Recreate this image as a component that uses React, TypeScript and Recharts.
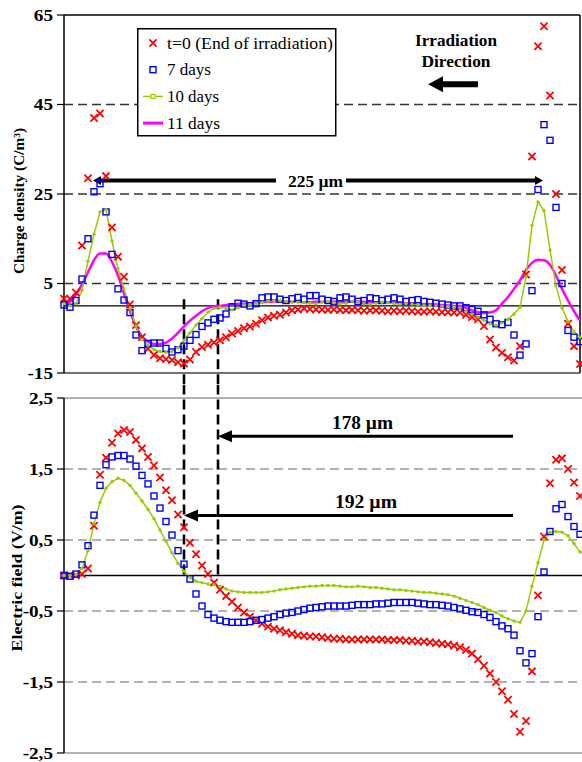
import React from 'react';
import { ComposedChart, Line, XAxis, YAxis, ReferenceLine, ReferenceDot, Legend } from 'recharts';

const SERIF = 'Liberation Serif, Times New Roman, Times, serif';

// depth positions (µm)
const positionsUm = [0, 3, 6, 9, 12, 15, 18, 21, 24, 27, 30, 33, 36, 39, 42, 45, 48, 51, 54, 57, 60, 63, 66, 69, 72, 75, 78, 81, 84, 87, 90, 93, 96, 99, 102, 105, 108, 111, 114, 117, 120, 123, 126, 129, 132, 135, 138, 141, 144, 147, 150, 153, 156, 159, 162, 165, 168, 171, 174, 177, 180, 183, 186, 189, 192, 195, 198, 201, 204, 207, 210, 213, 216, 219, 222, 225, 228, 231, 234, 237, 240, 243, 246, 249, 252, 255, 258];

// charge density (C/m3)
const rhoT0 = [1.6, 1.6, 3.0, 13.5, 28.5, 42, 43, 29, 17.5, 11,
  6.5, 0.3, -4.3, -7, -9.6, -11, -11.7, -11.9, -12.1, -12.6,
  -12.9, -12, -10.3, -9.2, -8.7, -8.2, -7.7, -7, -6.2, -5.6,
  -5, -4.6, -4, -3.2, -2.6, -2.2, -2, -1.5, -1, -0.8,
  -0.6, -0.7, -0.8, -0.8, -0.9, -0.8, -0.9, -1.0, -0.9, -1.0,
  -1.1, -1.0, -1.0, -1.1, -1.2, -1.1, -1.2, -1.1, -1.2, -1.3,
  -1.3, -1.2, -1.3, -1.4, -1.4, -1.5,
  -1.5, -2, -2.5, -3, -4.5, -7.5, -9.3, -10.5, -11.5, -12.2,
  -9, 7, 33.4, 58, 62.5, 47, 25, 8, -4, -9, -13];
const rho7 = [0.2, -0.3, 1.2, 6, 15, 25.5, 27.3, 21, 11.5, 3.8,
  1.3, -1.5, -6.5, -10, -8.4, -8.3, -8.3, -9.5, -10.3, -9.8,
  -9, -7.7, -6.4, -4.6, -3.8, -3, -2.7, -1.8, -0.2, 0.6,
  0.4, 0, 0.5, 1.8, 2, 2, 1.5, 1.2, 1.6, 1.9,
  1.5, 2.3, 2.3, 1.5, 1.2, 1.0, 1.8, 2.0, 1.5, 1.0,
  1.2, 1.8, 1.6, 1.2, 1.5, 1.8, 1.5, 1.0, 1.2, 1.4,
  1.0, 0.8, 0.6, 0.4, 0.2, 0,
  0, -0.4, -0.8, -1.2, -2, -3, -4, -4.2, -3.7, -6.5,
  -11, -8.5, 3.4, 26, 40.5, 37, 22, 5, -5.5, -7, -8];
const rho10 = [0.5, 0, 0.5, 3.5, 10, 16, 21, 21.5, 14.5, 8.3,
  3.8, -0.6, -4.5, -7.5, -8.8, -9.8, -10.2, -10.4, -10.2, -9.3,
  -7.7, -6, -4.3, -2.8, -1.4, -0.6, -0.3, -0.6, -0.9, -0.4,
  0.2, 0.3, 0.5, 0.8, 1.1, 1.2, 1.2, 1.0, 0.8, 0.8,
  0.8, 0.6, 0.5, 0.8, 1.0, 0.7, 0.5, 0.6, 0.9, 0.8,
  0.5, 0.4, 0.6, 0.8, 0.7, 0.5, 0.4, 0.5, 0.4, 0.3,
  0.2, 0.1, 0.0, -0.1, -0.2, -0.3,
  -0.5, -1.2, -1.8, -2.5, -3.2, -4, -4.3, -3.8, -3, -1.8,
  -0.3, 6.5, 18, 23.2, 21.3, 12.5, 4.5, -0.5, -3.5, -5.8, -7];
const rho11 = [0.5, 1, 2.5, 4.8, 7.5, 10.2, 11.7, 11.7, 9.8, 6.8,
  2.8, -1.2, -4.6, -6.8, -8, -8.5, -8.5, -8.2, -7.3, -6,
  -4.6, -3.3, -2.2, -1.2, -0.5, -0.1, 0, 0.2, 0.3, 0.4,
  0.5, 0.6, 0.7, 0.8, 0.9, 1.0, 1.0, 1.0, 0.9, 0.9,
  0.8, 0.8, 0.9, 0.9, 1.0, 1.0, 0.9, 0.9, 1.0, 1.0,
  0.9, 0.8, 0.8, 0.8, 0.8, 0.7, 0.7, 0.6, 0.6, 0.5,
  0.4, 0.4, 0.3, 0.2, 0.1, 0.0,
  0, -0.5, -1, -1.4, -1.6, -1.5, -1.0, 0.5, 2.0, 3.8,
  5.7, 8, 9.6, 10.3, 10.2, 9.2, 6.8, 3.8, 1.2, -1.2, -3.3];

// electric field (V/m)
const fieldT0 = [0, 0, 0, 0.02, 0.1, 0.7, 1.42, 1.66, 1.87, 2.0,
  2.05, 2.02, 1.91, 1.79, 1.67, 1.55, 1.38, 1.2, 1.06, 0.86,
  0.68, 0.46, 0.3, 0.14, 0.02, -0.1, -0.2, -0.29, -0.37, -0.45,
  -0.52, -0.58, -0.63, -0.68, -0.72, -0.75, -0.77, -0.8, -0.82, -0.84,
  -0.85, -0.86, -0.86, -0.87, -0.88, -0.89, -0.89, -0.9, -0.9, -0.9,
  -0.9, -0.9, -0.9, -0.9, -0.91, -0.91, -0.91, -0.92, -0.92, -0.93,
  -0.93, -0.94, -0.95, -0.96, -0.97, -0.99,
  -1.01, -1.05, -1.1, -1.18, -1.27, -1.38, -1.5, -1.63, -1.75, -1.95,
  -2.2, -2.05, -1.35, -0.28, 0.55, 1.3, 1.63, 1.65, 1.5, 1.31, 1.12];
const field7 = [0, -0.01, 0.02, 0.15, 0.42, 0.85, 1.27, 1.56, 1.67, 1.69,
  1.69, 1.64, 1.54, 1.41, 1.29, 1.12, 0.95, 0.76, 0.57, 0.35,
  0.16, -0.05, -0.26, -0.43, -0.55, -0.6, -0.63, -0.65, -0.66, -0.66,
  -0.66, -0.65, -0.63, -0.62, -0.6, -0.58, -0.55, -0.53, -0.52, -0.5,
  -0.48, -0.46, -0.45, -0.44, -0.43, -0.43, -0.43, -0.43, -0.42, -0.41,
  -0.41, -0.41, -0.4, -0.4, -0.39, -0.38, -0.38, -0.38, -0.38, -0.39,
  -0.4, -0.41, -0.41, -0.42, -0.43, -0.45,
  -0.47, -0.49, -0.51, -0.52, -0.55, -0.59, -0.65, -0.71, -0.75, -0.84,
  -1.06, -1.23, -1.1, -0.58, 0.05, 0.62, 0.94, 1.0, 0.83, 0.69, 0.58];
const field10 = [0, 0, 0.01, 0.1, 0.35, 0.73, 1.03, 1.23, 1.32, 1.37,
  1.34, 1.27, 1.16, 1.05, 0.93, 0.8, 0.64, 0.48, 0.32, 0.17,
  0.06, -0.03, -0.08, -0.1, -0.12, -0.13, -0.15, -0.19, -0.22, -0.23,
  -0.24, -0.24, -0.24, -0.24, -0.23, -0.22, -0.2, -0.19, -0.18, -0.17,
  -0.16, -0.15, -0.15, -0.14, -0.14, -0.14, -0.15, -0.16, -0.16, -0.15,
  -0.16, -0.17, -0.17, -0.18, -0.19, -0.2, -0.2, -0.21, -0.22, -0.23,
  -0.24, -0.24, -0.25, -0.26, -0.27, -0.29,
  -0.32, -0.35, -0.38, -0.41, -0.45, -0.49, -0.52, -0.57, -0.61, -0.64,
  -0.66, -0.5, -0.15, 0.18, 0.5, 0.61, 0.62, 0.61, 0.56, 0.45, 0.33];

const rhoTicks = [-15, 5, 25, 45, 65];
const rhoDashed = [5, 25, 45];
const fieldTicks = [-2.5, -1.5, -0.5, 0.5, 1.5, 2.5];
const fieldDashed = [-1.5, -0.5, 0.5, 1.5];
const legendLabels = ['t=0 (End of irradiation)', '7 days', '10 days', '11 days'];

const topData = positionsUm.map((x, i) => ({ x, t0: rhoT0[i], d7: rho7[i], d10: rho10[i], d11: rho11[i] }));
const bottomData = positionsUm.map((x, i) => ({ x, t0: fieldT0[i], d7: field7[i], d10: field10[i] }));

const RED = '#FF0000';
const BLUE = '#0000FF';
const GREEN = '#99CC00';
const MAGENTA = '#FF00FF';

function crossPath(cx: number, cy: number, s: number) {
  return `M${cx - s},${cy - s}L${cx + s},${cy + s}M${cx - s},${cy + s}L${cx + s},${cy - s}`;
}

function CrossDot(p: any) {
  const { cx, cy, index } = p;
  if (cx == null || cy == null || Number.isNaN(cy)) return <g key={`x-${index}`} />;
  return <path key={`x-${index}`} d={crossPath(cx, cy, 3.6)} stroke={RED} strokeWidth={1.8} fill="none" />;
}

function SquareDot(p: any) {
  const { cx, cy, index } = p;
  if (cx == null || cy == null || Number.isNaN(cy)) return <g key={`s-${index}`} />;
  return <rect key={`s-${index}`} x={cx - 3} y={cy - 3} width={6} height={6} stroke={BLUE} strokeWidth={1.4} fill="none" />;
}

const serifStyle = (weight: number, size: number) => ({ fontFamily: SERIF, fontWeight: weight, fontSize: size });

const makeTick = (fmt: (v: number) => string) => (p: any) => (
  <text
    transform={`translate(${p.x},${p.y}) scale(1.2,1)`}
    textAnchor="end"
    dy="0.35em"
    style={serifStyle(700, 16)}
    fill="#000"
  >
    {fmt(p.payload.value)}
  </text>
);

const rhoTick = makeTick((v) => String(v));
const fieldTick = makeTick((v) => String(v).replace('.', ','));

const axisTitle = (text: string, xPos: number, dyOff: number, len: number) => (p: any) => {
  const vb = p && p.viewBox ? p.viewBox : { x: 0, y: 0, width: 0, height: 0 };
  const cy = vb.y + vb.height / 2 + dyOff;
  return (
    <text
      transform={`translate(${xPos},${cy}) rotate(-90)`}
      textAnchor="middle"
      style={serifStyle(700, 15)}
      textLength={len}
      lengthAdjust="spacingAndGlyphs"
      fill="#000"
    >
      {text}
    </text>
  );
};

type ArrowOpts = { thick: number; headL: number; headW: number; left?: boolean; right?: boolean };
const arrowShape = (o: ArrowOpts) => (p: any) => {
  const { x1, y1, x2 } = p;
  const y = y1;
  const l = Math.min(x1, x2);
  const r = Math.max(x1, x2);
  const sx = o.left ? l + o.headL - 1 : l;
  const ex = o.right ? r - o.headL + 1 : r;
  return (
    <g>
      <line x1={sx} y1={y} x2={ex} y2={y} stroke="#000" strokeWidth={o.thick} />
      {o.left && (
        <polygon points={`${l},${y} ${l + o.headL},${y - o.headW / 2} ${l + o.headL},${y + o.headW / 2}`} fill="#000" />
      )}
      {o.right && (
        <polygon points={`${r},${y} ${r - o.headL},${y - o.headW / 2} ${r - o.headL},${y + o.headW / 2}`} fill="#000" />
      )}
    </g>
  );
};

const textShape = (label: string, size: number, len: number) => (p: any) => (
  <text
    x={p.cx}
    y={p.cy}
    dy="0.35em"
    textAnchor="middle"
    style={serifStyle(700, size)}
    textLength={len}
    lengthAdjust="spacingAndGlyphs"
    fill="#000"
  >
    {label}
  </text>
);

const legendTextLen = [166, 44, 52, 53];

const LegendBox = () => (
  <svg width={200} height={110} style={{ display: 'block' }}>
    <rect x={0.75} y={0.75} width={198} height={107} fill="#fff" stroke="#000" strokeWidth={1.5} />
    {legendLabels.map((lab, i) => {
      const cy = 15 + i * 26.7;
      return (
        <g key={lab}>
          {i === 0 && <path d={crossPath(16, cy, 3.6)} stroke={RED} strokeWidth={1.8} fill="none" />}
          {i === 1 && <rect x={13} y={cy - 3} width={6} height={6} stroke={BLUE} strokeWidth={1.4} fill="none" />}
          {i === 2 && (
            <g>
              <line x1={6} y1={cy} x2={26} y2={cy} stroke={GREEN} strokeWidth={1.5} />
              <rect x={14} y={cy - 2} width={4} height={4} stroke={GREEN} strokeWidth={1.2} fill="#fff" />
            </g>
          )}
          {i === 3 && <line x1={6} y1={cy} x2={26} y2={cy} stroke={MAGENTA} strokeWidth={3} />}
          <text
            x={30}
            y={cy}
            dy="0.35em"
            style={serifStyle(400, 16)}
            fill="#000"
            textLength={legendTextLen[i]}
            lengthAdjust="spacingAndGlyphs"
          >
            {lab}
          </text>
        </g>
      );
    })}
  </svg>
);

export default function App() {
  return (
    <div style={{ position: 'absolute', left: 0, top: 0, width: 582, height: 762, background: '#fff', fontFamily: SERIF }}>
      <div style={{ position: 'absolute', left: 0, top: 0 }}>
        <ComposedChart width={582} height={385} data={topData} margin={{ top: 15, right: 2, bottom: 12, left: 0 }}>
          <XAxis type="number" dataKey="x" domain={[0, 258]} hide />
          <YAxis
            type="number"
            domain={[-15, 65]}
            ticks={rhoTicks}
            interval={0}
            width={64}
            tickSize={7}
            tickMargin={4}
            allowDataOverflow
            axisLine={{ stroke: '#000', strokeWidth: 1.5 }}
            tickLine={{ stroke: '#000', strokeWidth: 1.2 }}
            tick={rhoTick}
            label={axisTitle('Charge density (C/m³)', 24, 7, 146)}
          />
          {rhoDashed.map((v) => (
            <ReferenceLine key={`rd${v}`} y={v} stroke="#333" strokeWidth={1.3} strokeDasharray="9 5" />
          ))}
          <ReferenceLine y={0} stroke="#000" strokeWidth={1.3} />
          <ReferenceLine y={65} stroke="#000" strokeWidth={1.5} ifOverflow="visible" />
          <ReferenceLine y={-15} stroke="#444" strokeWidth={1.5} ifOverflow="visible" />
          <ReferenceLine x={258} stroke="#000" strokeWidth={1.5} ifOverflow="visible" />
          <ReferenceLine segment={[{ x: 60, y: 1.5 }, { x: 60, y: -17.8 }]} stroke="#000" strokeWidth={2.6} strokeDasharray="10 5" ifOverflow="visible" />
          <ReferenceLine segment={[{ x: 77, y: 1.5 }, { x: 77, y: -17.8 }]} stroke="#000" strokeWidth={2.6} strokeDasharray="10 5" ifOverflow="visible" />

          <Line type="monotone" dataKey="d11" stroke={MAGENTA} strokeWidth={2.5} dot={false} activeDot={false} isAnimationActive={false} />
          <Line type="linear" dataKey="t0" stroke="none" strokeWidth={0} dot={CrossDot} activeDot={false} isAnimationActive={false} />
          <Line type="linear" dataKey="d7" stroke="none" strokeWidth={0} dot={SquareDot} activeDot={false} isAnimationActive={false} />
          <Line type="linear" dataKey="d10" stroke={GREEN} strokeWidth={1.5} dot={{ r: 1.7, fill: GREEN, stroke: 'none' }} activeDot={false} isAnimationActive={false} />

          <ReferenceLine segment={[{ x: 14.5, y: 28 }, { x: 106, y: 28 }]} shape={arrowShape({ thick: 4, headL: 8, headW: 9, left: true })} ifOverflow="visible" />
          <ReferenceLine segment={[{ x: 141, y: 28 }, { x: 239.5, y: 28 }]} shape={arrowShape({ thick: 4, headL: 8, headW: 9, right: true })} ifOverflow="visible" />
          <ReferenceDot x={125.75} y={28} r={0} shape={textShape('225 µm', 17, 55)} ifOverflow="visible" />

          <ReferenceLine segment={[{ x: 182, y: 49.5 }, { x: 207, y: 49.5 }]} shape={arrowShape({ thick: 6, headL: 15, headW: 16, left: true })} ifOverflow="visible" />
          <ReferenceDot x={196} y={59.4} r={0} shape={textShape('Irradiation', 17, 82)} ifOverflow="visible" />
          <ReferenceDot x={196} y={54.6} r={0} shape={textShape('Direction', 17, 69)} ifOverflow="visible" />

          <Legend
            verticalAlign="middle"
            layout="horizontal"
            align="center"
            content={LegendBox}
            wrapperStyle={{ left: 137, top: 28, width: 200, height: 110 }}
          />
        </ComposedChart>
      </div>

      <div style={{ position: 'absolute', left: 0, top: 385 }}>
        <ComposedChart width={582} height={377} data={bottomData} margin={{ top: 13, right: 0, bottom: 9, left: 0 }}>
          <XAxis type="number" dataKey="x" domain={[0, 259]} hide />
          <YAxis
            type="number"
            domain={[-2.5, 2.5]}
            ticks={fieldTicks}
            interval={0}
            width={64}
            tickSize={7}
            tickMargin={4}
            allowDataOverflow
            axisLine={{ stroke: '#000', strokeWidth: 1.5 }}
            tickLine={{ stroke: '#000', strokeWidth: 1.2 }}
            tick={fieldTick}
            label={axisTitle('Electric field  (V/m)', 22, 2.5, 147)}
          />
          {fieldDashed.map((v) => (
            <ReferenceLine key={`fd${v}`} y={v} stroke="#999" strokeWidth={1.3} strokeDasharray="9 5" />
          ))}
          <ReferenceLine y={2.5} stroke="#999" strokeWidth={1.5} ifOverflow="visible" />
          <ReferenceLine y={-2.5} stroke="#999" strokeWidth={1.5} ifOverflow="visible" />
          <ReferenceLine y={0} stroke="#000" strokeWidth={1.3} />
          <ReferenceLine segment={[{ x: 60, y: 2.69 }, { x: 60, y: 0 }]} stroke="#000" strokeWidth={2.6} strokeDasharray="10 5" ifOverflow="visible" />
          <ReferenceLine segment={[{ x: 77, y: 2.69 }, { x: 77, y: -0.05 }]} stroke="#000" strokeWidth={2.6} strokeDasharray="10 5" ifOverflow="visible" />

          <Line type="linear" dataKey="t0" stroke="none" strokeWidth={0} dot={CrossDot} activeDot={false} isAnimationActive={false} />
          <Line type="linear" dataKey="d7" stroke="none" strokeWidth={0} dot={SquareDot} activeDot={false} isAnimationActive={false} />
          <Line type="linear" dataKey="d10" stroke={GREEN} strokeWidth={1.5} dot={{ r: 1.7, fill: GREEN, stroke: 'none' }} activeDot={false} isAnimationActive={false} />

          <ReferenceLine segment={[{ x: 77, y: 1.96 }, { x: 224.5, y: 1.96 }]} shape={arrowShape({ thick: 3, headL: 14, headW: 12, left: true })} ifOverflow="visible" />
          <ReferenceDot x={149.25} y={2.15} r={0} shape={textShape('178 µm', 18, 61)} ifOverflow="visible" />
          <ReferenceLine segment={[{ x: 60, y: 0.845 }, { x: 224.5, y: 0.845 }]} shape={arrowShape({ thick: 3, headL: 14, headW: 12, left: true })} ifOverflow="visible" />
          <ReferenceDot x={151} y={1.04} r={0} shape={textShape('192 µm', 18, 62)} ifOverflow="visible" />
        </ComposedChart>
      </div>
    </div>
  );
}
